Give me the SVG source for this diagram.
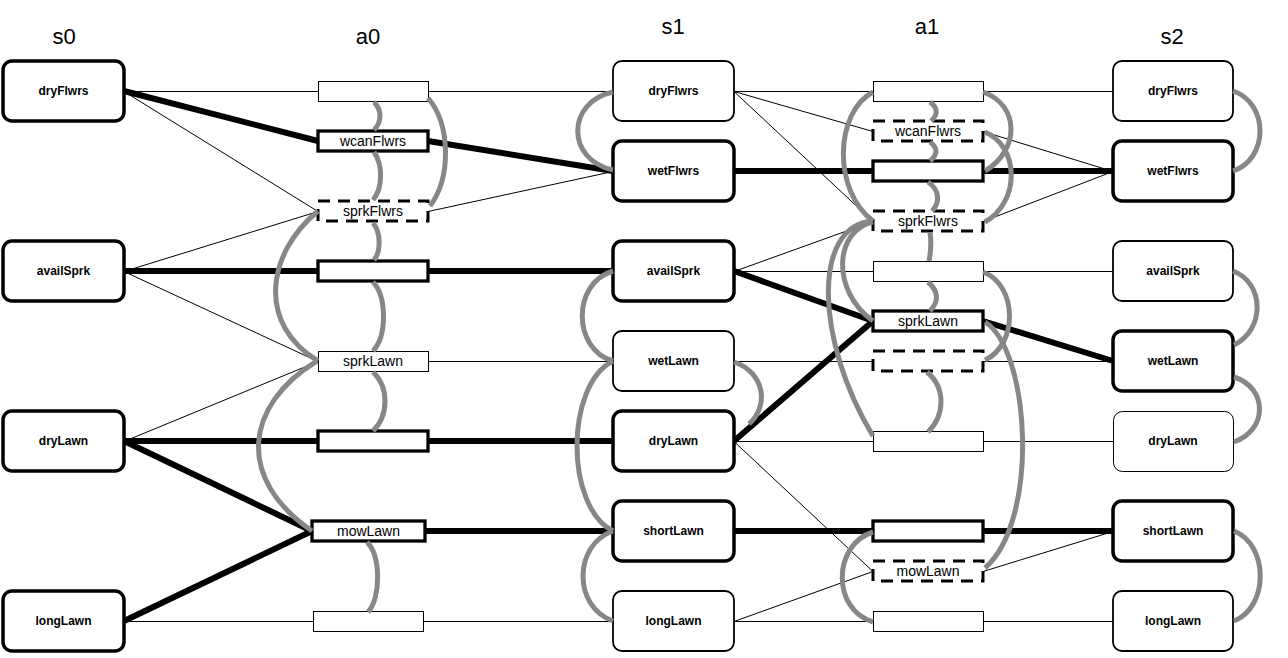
<svg xmlns="http://www.w3.org/2000/svg" width="1288" height="658" viewBox="0 0 1288 658">
<style>
.title{font-family:"Liberation Sans",Arial,sans-serif;font-size:22px;fill:#000;text-anchor:middle}
.nl{font-family:"Liberation Sans",Arial,sans-serif;font-size:12px;font-weight:bold;fill:#000;text-anchor:middle}
.al{font-family:"Liberation Sans",Arial,sans-serif;font-size:14px;fill:#000;text-anchor:middle}
.fb{fill:#fff;stroke:#000;stroke-width:3.5}
.ft{fill:#fff;stroke:#000;stroke-width:1.8}
.fx{fill:#fff;stroke:#000;stroke-width:1}
.ab{fill:#fff;stroke:#000;stroke-width:3.3}
.at{fill:#fff;stroke:#000;stroke-width:1}
.ad{fill:#fff;stroke:#000;stroke-width:3;stroke-dasharray:12 8}
.thin line{stroke:#000;stroke-width:1}
.thick line{stroke:#000;stroke-width:6}
.mutex path{fill:none;stroke:#878787;stroke-width:5}
</style>
<rect width="1288" height="658" fill="#fff"/>
<g id="titles">
<text class="title" x="64" y="44">s0</text>
<text class="title" x="368" y="44">a0</text>
<text class="title" x="673" y="34">s1</text>
<text class="title" x="927" y="34">a1</text>
<text class="title" x="1172" y="44">s2</text>
</g>
<g id="connectors">
<g class="thin" transform="translate(0,0.5)">
<line x1="124" y1="91" x2="318" y2="91"/>
<line x1="428" y1="91" x2="613" y2="91"/>
<line x1="124" y1="91" x2="318" y2="211"/>
<line x1="124" y1="271" x2="318" y2="211"/>
<line x1="428" y1="211" x2="613" y2="171"/>
<line x1="124" y1="271" x2="318" y2="361"/>
<line x1="124" y1="441" x2="318" y2="361"/>
<line x1="428" y1="361" x2="613" y2="361"/>
<line x1="124" y1="621" x2="313" y2="621"/>
<line x1="423" y1="621" x2="613" y2="621"/>
<line x1="734" y1="91" x2="873" y2="91"/>
<line x1="983" y1="91" x2="1113" y2="91"/>
<line x1="734" y1="91" x2="873" y2="131"/>
<line x1="983" y1="131" x2="1113" y2="171"/>
<line x1="734" y1="91" x2="873" y2="221"/>
<line x1="734" y1="271" x2="873" y2="221"/>
<line x1="983" y1="221" x2="1113" y2="171"/>
<line x1="734" y1="271" x2="873" y2="271"/>
<line x1="983" y1="271" x2="1113" y2="271"/>
<line x1="734" y1="361" x2="873" y2="361"/>
<line x1="983" y1="361" x2="1113" y2="361"/>
<line x1="734" y1="441" x2="873" y2="441"/>
<line x1="983" y1="441" x2="1113" y2="441"/>
<line x1="734" y1="441" x2="873" y2="571"/>
<line x1="734" y1="621" x2="873" y2="571"/>
<line x1="983" y1="571" x2="1113" y2="531"/>
<line x1="734" y1="621" x2="873" y2="621"/>
<line x1="983" y1="621" x2="1113" y2="621"/>
</g>
<g class="thick">
<line x1="124" y1="91" x2="318" y2="141"/>
<line x1="428" y1="141" x2="613" y2="171"/>
<line x1="124" y1="271" x2="318" y2="271"/>
<line x1="428" y1="271" x2="613" y2="271"/>
<line x1="124" y1="441" x2="318" y2="441"/>
<line x1="428" y1="441" x2="613" y2="441"/>
<line x1="124" y1="441" x2="312" y2="531"/>
<line x1="124" y1="621" x2="312" y2="531"/>
<line x1="425" y1="531" x2="613" y2="531"/>
<line x1="734" y1="171" x2="873" y2="171"/>
<line x1="983" y1="171" x2="1113" y2="171"/>
<line x1="734" y1="271" x2="873" y2="321"/>
<line x1="734" y1="441" x2="873" y2="321"/>
<line x1="983" y1="321" x2="1113" y2="361"/>
<line x1="734" y1="531" x2="873" y2="531"/>
<line x1="983" y1="531" x2="1113" y2="531"/>
</g>
</g>
<g id="s0">
<g id="s0-dryFlwrs"><rect class="fb" x="3" y="61" width="121" height="60" rx="9"/><text class="nl" x="63.5" y="95">dryFlwrs</text></g>
<g id="s0-availSprk"><rect class="fb" x="3" y="241" width="121" height="60" rx="9"/><text class="nl" x="63.5" y="275">availSprk</text></g>
<g id="s0-dryLawn"><rect class="fb" x="3" y="411" width="121" height="60" rx="9"/><text class="nl" x="63.5" y="445">dryLawn</text></g>
<g id="s0-longLawn"><rect class="fb" x="3" y="591" width="121" height="60" rx="9"/><text class="nl" x="63.5" y="625">longLawn</text></g>
</g>
<g id="a0">
<g id="a0-noop-dryFlwrs"><rect class="at" x="318.5" y="81.5" width="110" height="20"/></g>
<g id="a0-wcanFlwrs"><rect class="ab" x="318" y="131" width="110" height="20"/><text class="al" x="373" y="146">wcanFlwrs</text></g>
<g id="a0-sprkFlwrs"><rect class="ad" x="318" y="201" width="110" height="20"/><text class="al" x="373" y="216">sprkFlwrs</text></g>
<g id="a0-noop-availSprk"><rect class="ab" x="318" y="261" width="110" height="20"/></g>
<g id="a0-sprkLawn"><rect class="at" x="318.5" y="351.5" width="110" height="20"/><text class="al" x="373" y="366">sprkLawn</text></g>
<g id="a0-noop-dryLawn"><rect class="ab" x="318" y="431" width="110" height="20"/></g>
<g id="a0-mowLawn"><rect class="ab" x="312" y="521" width="113" height="20"/><text class="al" x="368.5" y="536">mowLawn</text></g>
<g id="a0-noop-longLawn"><rect class="at" x="313.5" y="611.5" width="110" height="20"/></g>
</g>
<g id="s1">
<g id="s1-dryFlwrs"><rect class="ft" x="613" y="61" width="121" height="60" rx="9"/><text class="nl" x="673.5" y="95">dryFlwrs</text></g>
<g id="s1-wetFlwrs"><rect class="fb" x="613" y="141" width="121" height="60" rx="9"/><text class="nl" x="673.5" y="175">wetFlwrs</text></g>
<g id="s1-availSprk"><rect class="fb" x="613" y="241" width="121" height="60" rx="9"/><text class="nl" x="673.5" y="275">availSprk</text></g>
<g id="s1-wetLawn"><rect class="ft" x="613" y="331" width="121" height="60" rx="9"/><text class="nl" x="673.5" y="365">wetLawn</text></g>
<g id="s1-dryLawn"><rect class="fb" x="613" y="411" width="121" height="60" rx="9"/><text class="nl" x="673.5" y="445">dryLawn</text></g>
<g id="s1-shortLawn"><rect class="fb" x="613" y="501" width="121" height="60" rx="9"/><text class="nl" x="673.5" y="535">shortLawn</text></g>
<g id="s1-longLawn"><rect class="ft" x="613" y="591" width="121" height="60" rx="9"/><text class="nl" x="673.5" y="625">longLawn</text></g>
</g>
<g id="a1">
<g id="a1-noop-dryFlwrs"><rect class="at" x="873.5" y="81.5" width="110" height="20"/></g>
<g id="a1-wcanFlwrs"><rect class="ad" x="873" y="121" width="110" height="20"/><text class="al" x="928" y="136">wcanFlwrs</text></g>
<g id="a1-noop-wetFlwrs"><rect class="ab" x="873" y="161" width="110" height="20"/></g>
<g id="a1-sprkFlwrs"><rect class="ad" x="873" y="211" width="110" height="20"/><text class="al" x="928" y="226">sprkFlwrs</text></g>
<g id="a1-noop-availSprk"><rect class="at" x="873.5" y="261.5" width="110" height="20"/></g>
<g id="a1-sprkLawn"><rect class="ab" x="873" y="311" width="110" height="20"/><text class="al" x="928" y="326">sprkLawn</text></g>
<g id="a1-noop-wetLawn"><rect class="ad" x="873" y="351" width="110" height="20"/></g>
<g id="a1-noop-dryLawn"><rect class="at" x="873.5" y="431.5" width="110" height="20"/></g>
<g id="a1-noop-shortLawn"><rect class="ab" x="873" y="521" width="110" height="20"/></g>
<g id="a1-mowLawn"><rect class="ad" x="873" y="561" width="110" height="20"/><text class="al" x="928" y="576">mowLawn</text></g>
<g id="a1-noop-longLawn"><rect class="at" x="873.5" y="611.5" width="110" height="20"/></g>
</g>
<g id="s2">
<g id="s2-dryFlwrs"><rect class="ft" x="1113" y="61" width="120" height="60" rx="9"/><text class="nl" x="1173" y="95">dryFlwrs</text></g>
<g id="s2-wetFlwrs"><rect class="fb" x="1113" y="141" width="120" height="60" rx="9"/><text class="nl" x="1173" y="175">wetFlwrs</text></g>
<g id="s2-availSprk"><rect class="ft" x="1113" y="241" width="120" height="60" rx="9"/><text class="nl" x="1173" y="275">availSprk</text></g>
<g id="s2-wetLawn"><rect class="fb" x="1113" y="331" width="120" height="60" rx="9"/><text class="nl" x="1173" y="365">wetLawn</text></g>
<g id="s2-dryLawn"><rect class="fx" x="1113.5" y="411.5" width="120" height="60" rx="9"/><text class="nl" x="1173" y="445">dryLawn</text></g>
<g id="s2-shortLawn"><rect class="fb" x="1113" y="501" width="120" height="60" rx="9"/><text class="nl" x="1173" y="535">shortLawn</text></g>
<g id="s2-longLawn"><rect class="ft" x="1113" y="591" width="120" height="60" rx="9"/><text class="nl" x="1173" y="625">longLawn</text></g>
</g>
<g id="mutex" class="mutex">
<path d="M374,102 C382,110 382,122 374,130"/>
<path d="M374,152 C383,165 383,188 373,200"/>
<path d="M373,223 C381,232 381,252 374,260"/>
<path d="M373,282 C387,297 387,336 373,351"/>
<path d="M373,372 C389,387 389,415 373,431"/>
<path d="M367,542 C381,556 381,598 368,612"/>
<path d="M428,98 C451,125 451,178 430,206"/>
<path d="M318,211 C265,255 258,325 318,361"/>
<path d="M317,361 C245,405 235,478 312,531"/>
<path d="M613,92 C566,102 566,160 613,170"/>
<path d="M613,271 C572,283 572,349 613,361"/>
<path d="M613,361 C565,385 565,507 613,531"/>
<path d="M613,531 C573,545 573,607 613,621"/>
<path d="M734,362 C764,372 770,405 749,424"/>
<path d="M930,102 Q942,111 931,121"/>
<path d="M930,142 Q942,151 930,161"/>
<path d="M928,182 C940,190 940,203 932,211"/>
<path d="M930,232 Q932,246 929,261"/>
<path d="M928,282 Q944,296 930,311"/>
<path d="M927,372 C946,388 945,415 928,432"/>
<path d="M873,92 C835,112 832,190 873,221"/>
<path d="M983,92 C1020,105 1020,150 985,171"/>
<path d="M985,132 C1020,147 1020,202 985,222"/>
<path d="M873,222 C835,230 830,290 873,321"/>
<path d="M873,221 C812,225 815,340 873,436"/>
<path d="M983,272 C1018,285 1018,345 985,360"/>
<path d="M985,322 C1030,350 1040,520 985,568"/>
<path d="M873,532 C832,545 832,610 873,622"/>
<path d="M1233,91 C1269,103 1269,159 1233,171"/>
<path d="M1233,271 C1265,283 1265,330 1234,345"/>
<path d="M1234,377 C1268,388 1268,430 1234,442"/>
<path d="M1234,531 C1269,545 1269,607 1234,621"/>
</g>
</svg>
